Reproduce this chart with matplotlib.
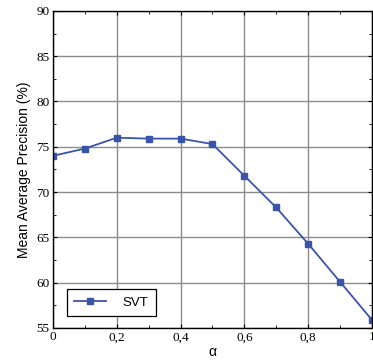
import matplotlib
matplotlib.use('Agg')
import matplotlib.pyplot as plt
from matplotlib.ticker import MultipleLocator, FuncFormatter

alpha = [0.0, 0.1, 0.2, 0.3, 0.4, 0.5, 0.6, 0.7, 0.8, 0.9, 1.0]
svt_map = [74.0, 74.8, 76.0, 75.9, 75.9, 75.3, 71.8, 68.3, 64.3, 60.1, 55.9]
x_ticks = [0, 0.2, 0.4, 0.6, 0.8, 1.0]
y_ticks = [55, 60, 65, 70, 75, 80, 85, 90]

fig = plt.figure(figsize=(3.73, 3.62), dpi=100)
ax = fig.add_axes([0.142, 0.094, 0.855, 0.876])

ax.plot(alpha, svt_map, color='#3b55a6', linewidth=1.3, marker='s',
        markersize=5, label='SVT')

ax.set_xlim(0, 1)
ax.set_ylim(55, 90)
ax.set_xticks(x_ticks)
ax.set_yticks(y_ticks)
ax.xaxis.set_minor_locator(MultipleLocator(0.1))
ax.yaxis.set_minor_locator(MultipleLocator(2.5))
ax.xaxis.set_major_formatter(FuncFormatter(
    lambda v, p: '0' if v == 0 else ('1' if v == 1 else ('%.1f' % v).replace('.', ','))))
ax.grid(True, which='major', color='#8c8c8c', linewidth=1.0)
ax.set_axisbelow(True)

ax.tick_params(which='both', direction='in', top=True, right=True,
               labelsize=9.5, length=3, pad=2.5)
ax.tick_params(which='minor', length=2)
for lab in ax.get_xticklabels() + ax.get_yticklabels():
    lab.set_family('Liberation Serif')
for s in ax.spines.values():
    s.set_linewidth(1.0)

ax.set_xlabel('α', fontsize=10, family='Liberation Sans', labelpad=1)
ax.set_ylabel('Mean Average Precision (%)', fontsize=10, family='Liberation Sans',
              labelpad=4)

leg = ax.legend(loc='lower left', bbox_to_anchor=(0.035, 0.03), fancybox=False,
                edgecolor='black', framealpha=1,
                prop={'family': 'Liberation Sans', 'size': 9.5},
                borderpad=0.55, handlelength=2.4, handletextpad=1.3,
                borderaxespad=0.2)
leg.get_frame().set_linewidth(0.9)

fig.savefig('out.png', dpi=100)
